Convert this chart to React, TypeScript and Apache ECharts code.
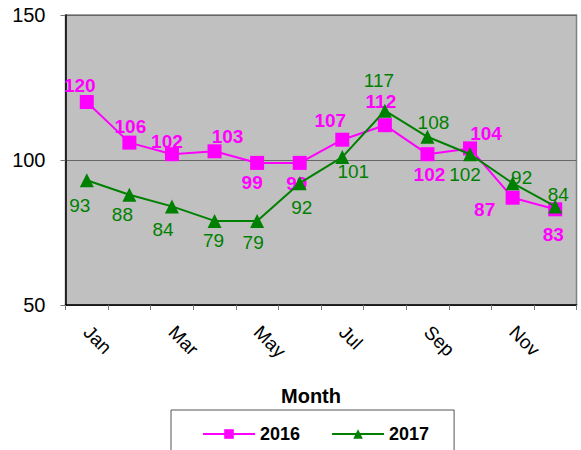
import React, { useEffect, useRef } from "react";
import * as echarts from "echarts";

const months = ["Jan", "Feb", "Mar", "Apr", "May", "Jun", "Jul", "Aug", "Sep", "Oct", "Nov", "Dec"];
const values2016 = [120, 106, 102, 103, 99, 99, 107, 112, 102, 104, 87, 83];
const values2017 = [93, 88, 84, 79, 79, 92, 101, 117, 108, 102, 92, 84];
const yTicks = { min: 50, max: 150, interval: 50 };

// label placement (pixel offsets of each value label from its marker)
const labelOffsets2016: [number, number][] = [
  [-7, -17], [1, -16], [-5, -13], [13, -15], [-5, 20], [-3, 21],
  [-12, -19], [-4, -24], [2, 20], [16, -15], [-28, 12], [-2, 25],
];
const labelOffsets2017: [number, number][] = [
  [-7, 25], [-7, 20], [-9, 23], [-1, 20], [-4, 22], [2, 24],
  [11, 14], [-6, -30], [6, -14], [-5, 20], [9, -6], [3, -12],
];

const FONT = "'Liberation Sans', Arial, sans-serif";

export default function App() {
  const ref = useRef<HTMLDivElement>(null);
  useEffect(() => {
    if (!ref.current) return;
    const chart = echarts.init(ref.current, undefined, { renderer: "svg" });
    const mk = (vals: number[], offs: [number, number][]) =>
      vals.map((v, i) => ({ value: v, label: { offset: offs[i] } }));
    chart.setOption({
      animation: false,
      textStyle: { fontFamily: FONT },
      grid: {
        left: 65.5,
        top: 15,
        right: 4.5,
        bottom: 145,
        show: true,
        backgroundColor: "#C0C0C0",
        borderColor: "#808080",
        borderWidth: 1.5,
        containLabel: false,
        outerBoundsMode: "none",
      },
      xAxis: {
        type: "category",
        data: months,
        boundaryGap: true,
        axisLine: { show: true, lineStyle: { color: "#000", width: 1.5 } },
        axisTick: { show: true, interval: 0, length: 5, lineStyle: { color: "#777" } },
        axisLabel: {
          interval: 1,
          rotate: -45,
          margin: 24,
          fontSize: 19,
          color: "#000",
          fontFamily: FONT,
        },
        splitLine: { show: false },
      },
      yAxis: {
        type: "value",
        min: yTicks.min,
        max: yTicks.max,
        interval: yTicks.interval,
        axisLine: { show: true, lineStyle: { color: "#000", width: 1.5 } },
        axisTick: { show: true, length: 5, lineStyle: { color: "#777" } },
        axisLabel: { margin: 20, fontSize: 20, color: "#000", fontFamily: FONT },
        splitLine: { show: true, lineStyle: { color: "#666", width: 1 } },
      },
      legend: {
        left: 171,
        top: 410,
        orient: "horizontal",
        padding: [15, 25, 40, 31],
        itemGap: 31,
        itemWidth: 52,
        itemHeight: 12,
        borderColor: "#555",
        borderWidth: 1,
        textStyle: { fontSize: 18, fontWeight: "bold", color: "#000", fontFamily: FONT },
        data: ["2016", "2017"],
      },
      graphic: [
        {
          type: "text",
          x: 311,
          y: 396,
          style: {
            text: "Month",
            fontSize: 20,
            fontWeight: "bold",
            fill: "#000",
            font: `bold 20px ${FONT}`,
            textAlign: "center",
            textVerticalAlign: "middle",
          },
        },
      ],
      series: [
        {
          name: "2016",
          type: "line",
          data: mk(values2016, labelOffsets2016),
          symbol: "rect",
          symbolSize: 14,
          color: "#FF00FF",
          lineStyle: { color: "#FF00FF", width: 2 },
          itemStyle: { color: "#FF00FF" },
          label: {
            show: true,
            position: "inside",
            color: "#FF00FF",
            fontSize: 19,
            fontWeight: "bold",
            fontFamily: FONT,
          },
          z: 2,
        },
        {
          name: "2017",
          type: "line",
          data: mk(values2017, labelOffsets2017),
          symbol: "triangle",
          symbolSize: 14,
          color: "#008000",
          lineStyle: { color: "#008000", width: 2 },
          itemStyle: { color: "#008000" },
          label: {
            show: true,
            position: "inside",
            color: "#008000",
            fontSize: 19,
            fontFamily: FONT,
          },
          z: 3,
        },
      ],
    });
    return () => chart.dispose();
  }, []);
  return (
    <div
      ref={ref}
      style={{ position: "fixed", left: 0, top: 0, width: 581, height: 450, background: "#fff" }}
    />
  );
}
